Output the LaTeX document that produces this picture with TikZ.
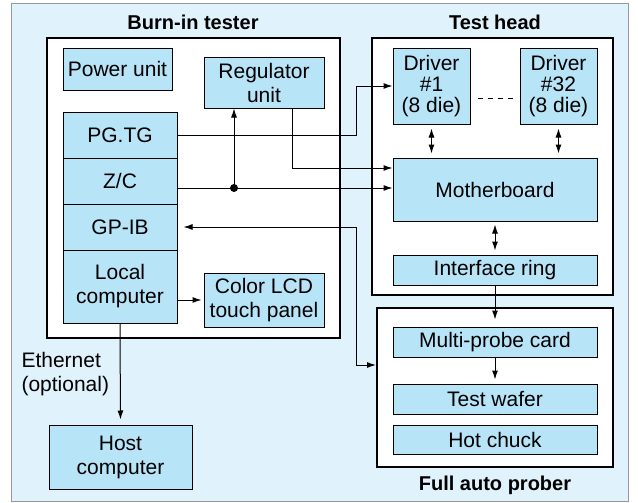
\documentclass[tikz,border=0pt]{standalone}
\usepackage{fontspec}
\setmainfont{Liberation Sans}
\usepackage{tikz}
\usetikzlibrary{positioning, calc, arrows.meta}

\definecolor{bgblue}{RGB}{224,242,251}
\definecolor{boxblue}{RGB}{184,228,248}

\tikzset{
  blk/.style={draw, fill=boxblue, line width=0.5pt, align=center, inner sep=0pt},
  frame/.style={draw, fill=white, line width=1pt, inner sep=0pt},
  ttl/.style={font=\bfseries},
  arr/.style={-{Latex[length=4.5pt,width=3pt]}, line width=0.5pt},
  dbl/.style={{Latex[length=4.5pt,width=3pt]}-{Latex[length=4.5pt,width=3pt]}, line width=0.5pt},
}

\begin{document}
\begin{tikzpicture}[x=0.5pt, y=-0.5pt, font=\fontsize{10.5}{12}\selectfont]
    \useasboundingbox (0,0) rectangle (638,503);
    \draw[fill=bgblue, draw=gray!80, line width=0.4pt] (11,3) rectangle (628,501);

    % frames
    \node[frame, minimum width=146.5pt, minimum height=150pt] (tester) at (193.5,188) {};
    \node[frame, minimum width=120.5pt, minimum height=128.5pt] (head) at (492.5,166.5) {};
    \node[frame, minimum width=118pt, minimum height=79.5pt] (prober) at (495,387.5) {};

    \node[ttl] (testerttl) at (193,22) {Burn-in tester};
    \node[ttl] (headttl) at (495,22) {Test head};
    \node[ttl] (proberttl) at (495,485) {Full auto prober};

    % burn-in tester
    \node[blk, minimum width=54.5pt, minimum height=21pt] (power) at (117.5,69) {Power unit};
    \node[blk, minimum width=60pt, minimum height=25.5pt] (reg) at (264,82.5) {Regulator\\unit};
    \node[blk, minimum width=57pt, minimum height=23pt] (pgtg) at (120,135) {PG.TG};
    \node[blk, minimum width=57pt, minimum height=23pt] (zc) at (120,181) {Z/C};
    \node[blk, minimum width=57pt, minimum height=23pt] (gpib) at (120,227) {GP-IB};
    \node[blk, minimum width=57pt, minimum height=36.5pt] (local) at (120,286.5) {Local\\computer};
    \node[blk, minimum width=60pt, minimum height=27pt] (lcd) at (264,300) {Color LCD\\touch panel};
    \node[blk, minimum width=71.5pt, minimum height=32pt] (host) at (120.5,457) {Host\\computer};

    % test head
    \node[blk, minimum width=38.5pt, minimum height=38pt, font=\fontsize{10.5}{10.5}\selectfont] (drv1) at (431.5,86) {Driver\\\#1\\(8 die)};
    \node[blk, minimum width=38.5pt, minimum height=38pt, font=\fontsize{10.5}{10.5}\selectfont] (drv32) at (558.5,86) {Driver\\\#32\\(8 die)};
    \node[blk, minimum width=102pt, minimum height=31.5pt] (mother) at (495,189.5) {Motherboard};
    \node[blk, minimum width=102pt, minimum height=15pt] (iface) at (495,270) {Interface ring};

    % prober
    \node[blk, minimum width=102pt, minimum height=15pt] (probe) at (495,342) {Multi-probe card};
    \node[blk, minimum width=102pt, minimum height=15pt] (wafer) at (495,399) {Test wafer};
    \node[blk, minimum width=102pt, minimum height=14.5pt] (chuck) at (495,439.5) {Hot chuck};

    % connections
    \draw[dashed, dash pattern=on 2.5pt off 2.5pt, line width=0.5pt, shorten <=3.5pt, shorten >=3pt]
        ([yshift=-6pt]drv1.east) -- ([yshift=-6pt]drv32.west);
    \draw[arr] (pgtg.east) -- (356,135) |- (drv1.west);
    \draw[arr] ([xshift=14pt]reg.south) |- ([yshift=10.75pt]mother.west);
    \draw[arr] ([yshift=-3.5pt]zc.east) -- ([yshift=-3.5pt]zc.east -| mother.west);
    \coordinate (tap) at (234,188);
    \fill (tap) circle (2pt);
    \draw[arr] (tap) -- (tap |- reg.south);
    \draw[dbl, shorten <=3pt] (gpib.east) -- (356,227) |- ([yshift=11.25pt]prober.west);
    \draw[dbl, shorten <=2pt, shorten >=2pt] (drv1.south) -- (drv1.south |- mother.north);
    \draw[dbl, shorten <=2pt, shorten >=2pt] (drv32.south) -- (drv32.south |- mother.north);
    \draw[dbl, shorten <=1.5pt, shorten >=2pt] (mother.south) -- (iface.north);
    \draw[arr, shorten >=3.5pt] (iface.south) -- (probe.north);
    \draw[arr, shorten >=2pt] (probe.south) -- (wafer.north);
    \draw[arr, shorten >=1pt] (lcd.west -| local.east) -- (lcd.west);
    \draw[arr, shorten >=2.5pt] (local.south) -- (host.north)
        node[midway, left, align=left, xshift=-2pt] {Ethernet\\(optional)};
\end{tikzpicture}
\end{document}
